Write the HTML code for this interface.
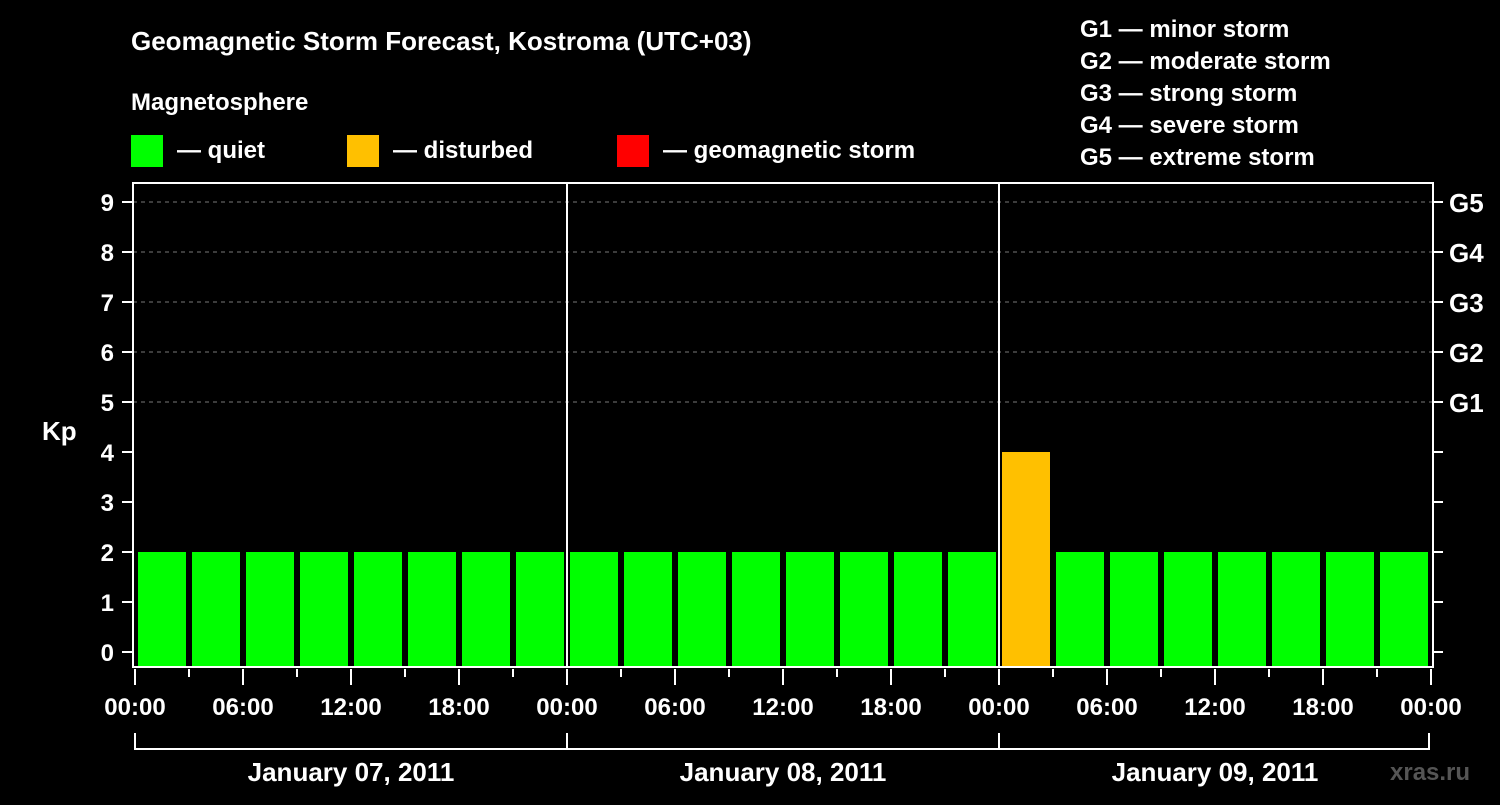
<!DOCTYPE html>
<html><head><meta charset="utf-8"><style>
html,body{margin:0;padding:0;background:#000;}
svg text{font-family:"Liberation Sans",Arial,sans-serif;font-weight:bold;fill:#fff;}
</style></head><body>
<svg id="chart" width="1500" height="800" xmlns="http://www.w3.org/2000/svg">
<rect width="1500" height="800" fill="#000"/>
<text x="131" y="50" font-size="26">Geomagnetic Storm Forecast, Kostroma (UTC+03)</text>
<text x="131" y="110" font-size="24">Magnetosphere</text>
<g>
<rect x="131" y="135" width="32" height="32" fill="#00ff00"/>
<text x="177" y="158" font-size="24">— quiet</text>
<rect x="347" y="135" width="32" height="32" fill="#ffc000"/>
<text x="393" y="158" font-size="24">— disturbed</text>
<rect x="617" y="135" width="32" height="32" fill="#ff0000"/>
<text x="663" y="158" font-size="24">— geomagnetic storm</text>
</g>
<g font-size="24">
<text x="1080" y="37">G1 — minor storm</text>
<text x="1080" y="69">G2 — moderate storm</text>
<text x="1080" y="101">G3 — strong storm</text>
<text x="1080" y="133">G4 — severe storm</text>
<text x="1080" y="165">G5 — extreme storm</text>
</g>
<text x="42" y="440" font-size="26">Kp</text>
<text x="1390" y="780" font-size="24" fill="#555" style="fill:#555">xras.ru</text>
<g id="plot"></g>
</svg>
<script>
const kpValues=[2,2,2,2,2,2,2,2, 2,2,2,2,2,2,2,2, 4,2,2,2,2,2,2,2];
const dayLabels=["January 07, 2011","January 08, 2011","January 09, 2011"];
const hourLabels=["00:00","06:00","12:00","18:00"];
const yTicks=[0,1,2,3,4,5,6,7,8,9];
const gLabels=["G1","G2","G3","G4","G5"];

const NS="http://www.w3.org/2000/svg";
const plot=document.getElementById('plot');
const X0=135,PXH=18,Y0=652,PXK=50,L=133,R=1433,T=183,B=667;
const xs=h=>X0+h*PXH, ys=k=>Y0-k*PXK;
function mk(tag,attrs,parent){const e=document.createElementNS(NS,tag);for(const k in attrs)e.setAttribute(k,attrs[k]);(parent||plot).appendChild(e);return e;}
// grid for G levels
gLabels.forEach((g,i)=>{const y=ys(5+i);
 const ln=mk('line',{x1:L,x2:R,y1:y,y2:y,stroke:'#777','stroke-dasharray':'4,4','stroke-width':1});
 
 
 const t=mk('text',{x:1449,y:y+10,'font-size':26});t.textContent=g;
 
 
});
// bars
kpValues.forEach((v,i)=>{
 const c=v>=5?'#ff0000':(v>=4?'#ffc000':'#00ff00');
 const b=mk('rect',{x:xs(i*3)+3,y:ys(v),width:48,height:B-ys(v),fill:c});
 
 
});
// day separators
[1,2].forEach(d=>{const x=xs(d*24);const l=mk('line',{x1:x,x2:x,y1:T,y2:B,stroke:'#fff','stroke-width':2});
 
 });
// frame
const f=mk('rect',{x:L,y:T,width:R-L,height:B-T,fill:'none',stroke:'#fff','stroke-width':2});


// y ticks
yTicks.forEach(k=>{const y=ys(k);
 mk('line',{x1:122,x2:L,y1:y,y2:y,stroke:'#fff','stroke-width':2});
 mk('line',{x1:R,x2:R+10,y1:y,y2:y,stroke:'#fff','stroke-width':2});
 const t=mk('text',{x:114,y:y+9,'font-size':24,'text-anchor':'end'});t.textContent=k;
 
 
});
// x ticks
for(let h=0;h<=72;h+=3){const x=xs(h);const major=h%6===0;
 mk('line',{x1:x,x2:x,y1:B+2,y2:major?B+18:B+10,stroke:'#fff','stroke-width':2});
 if(major){const t=mk('text',{x:x,y:715,'font-size':24,'text-anchor':'middle'});
  t.textContent=hourLabels[(h/6)%4];
  
  }
}
// day brackets
mk('polyline',{points:`${xs(0)},733 ${xs(0)},749 ${xs(72)-2},749 ${xs(72)-2},733`,fill:'none',stroke:'#fff','stroke-width':2});
dayLabels.forEach((d,i)=>{
 if(i>0) mk('line',{x1:xs(i*24),x2:xs(i*24),y1:733,y2:749,stroke:'#fff','stroke-width':2});
 const t=mk('text',{x:xs(i*24+12),y:781,'font-size':26,'text-anchor':'middle'});t.textContent=d;
 
 
});
</script>
</body></html>
